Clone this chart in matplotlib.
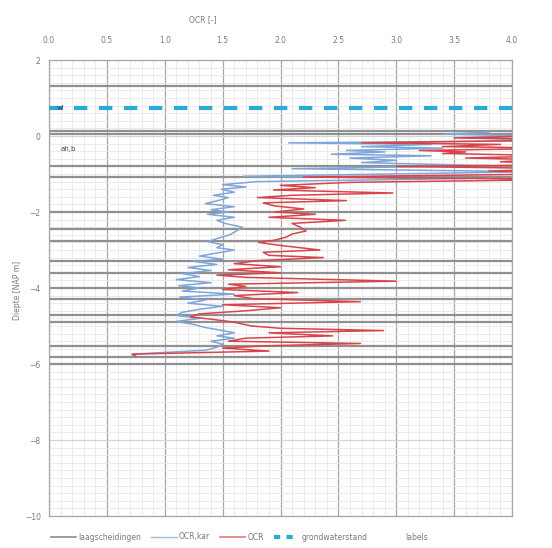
import matplotlib.pyplot as plt
from matplotlib.lines import Line2D

# diepte (m NAP) en OCR waarden
diepte_ocr = [0.10, 0.05, 0.00, -0.05, -0.10, -0.18, -0.22, -0.28, -0.32, -0.38,
              -0.42, -0.46, -0.52, -0.58, -0.62, -0.68, -0.75, -0.80, -0.86, -0.92,
              -0.98, -1.08, -1.14, -1.22, -1.30, -1.36, -1.42, -1.50, -1.56, -1.62,
              -1.70, -1.76, -1.84, -1.92, -2.00, -2.06, -2.14, -2.22, -2.30, -2.40,
              -2.50, -2.58, -2.66, -2.74, -2.80, -2.88, -3.00, -3.06, -3.14, -3.20,
              -3.28, -3.36, -3.44, -3.52, -3.60, -3.66, -3.72, -3.82, -3.90, -3.96,
              -4.04, -4.12, -4.20, -4.28, -4.36, -4.44, -4.52, -4.60, -4.68, -4.76,
              -4.82, -4.90, -5.00, -5.06, -5.12, -5.18, -5.26, -5.32, -5.40, -5.46,
              -5.52, -5.58, -5.66, -5.74, -5.80]
ocr = [4.5, 4.8, 4.2, 3.5, 4.6, 2.7, 3.9, 3.4, 4.5, 3.2,
       3.6, 3.4, 4.4, 3.6, 4.2, 3.9, 4.8, 3.0, 4.5, 3.8,
       4.9, 2.2, 4.6, 2.6, 2.0, 2.3, 1.94, 2.97, 2.1, 1.8,
       2.57, 1.85, 1.95, 2.2, 1.95, 2.3, 1.9, 2.56, 2.1, 2.17,
       2.22, 2.10, 2.05, 1.95, 1.81, 2.0, 2.34, 1.85, 1.9, 2.37,
       1.8, 1.6, 2.0, 1.55, 2.0, 1.45, 1.7, 3.0, 1.55, 1.7,
       1.5, 2.15, 1.6, 1.76, 2.69, 1.5, 2.0, 1.7, 1.3, 1.22,
       1.4, 1.6, 1.75, 2.0, 2.89, 1.9, 2.45, 1.7, 1.55, 2.69,
       1.9, 1.5, 1.9, 0.72, 0.75]

diepte_kar = [0.10, 0.05, 0.00, -0.05, -0.12, -0.18, -0.22, -0.28, -0.32, -0.38,
              -0.42, -0.48, -0.52, -0.58, -0.64, -0.70, -0.78, -0.86, -0.94, -1.06,
              -1.12, -1.20, -1.28, -1.34, -1.40, -1.48, -1.56, -1.62, -1.70, -1.78,
              -1.86, -1.94, -2.00, -2.06, -2.14, -2.22, -2.30, -2.40, -2.50, -2.60,
              -2.70, -2.78, -2.86, -2.94, -3.00, -3.08, -3.16, -3.24, -3.30, -3.38,
              -3.46, -3.54, -3.62, -3.70, -3.78, -3.86, -3.94, -4.00, -4.08, -4.16,
              -4.24, -4.32, -4.40, -4.48, -4.56, -4.64, -4.72, -4.80, -4.88, -4.96,
              -5.04, -5.12, -5.18, -5.26, -5.32, -5.40, -5.48, -5.56, -5.64, -5.74,
              -5.80]
ocr_kar = [3.8, 3.4, 4.2, 3.6, 4.4, 2.07, 3.3, 2.7, 3.4, 2.57,
           2.9, 2.44, 3.3, 2.6, 3.0, 2.7, 3.8, 2.1, 4.2, 1.68,
           3.6, 1.8, 1.5, 1.7, 1.49, 1.6, 1.42, 1.55, 1.46, 1.35,
           1.6, 1.40, 1.55, 1.37, 1.6, 1.45, 1.52, 1.67, 1.62, 1.56,
           1.45, 1.37, 1.5, 1.45, 1.6, 1.45, 1.3, 1.5, 1.25, 1.45,
           1.2, 1.4, 1.15, 1.3, 1.1, 1.4, 1.12, 1.3, 1.15, 1.6,
           1.13, 1.35, 1.2, 1.5, 1.3, 1.15, 1.1, 1.3, 1.1, 1.25,
           1.35, 1.5, 1.6, 1.45, 1.6, 1.4, 1.5, 1.45, 1.35, 0.72,
           0.72]

# laagscheidingen en grondwaterstand
laagscheidingen = [1.32, 0.13, 0.05, -0.79, -1.07, -2.0, -2.45, -2.76, -3.28, -3.6,
                   -4.0, -4.29, -4.71, -4.89, -5.53, -5.82, -6.0]
grondwater = 0.73

x_ticks = [0.0, 0.5, 1.0, 1.5, 2.0, 2.5, 3.0, 3.5, 4.0]
y_ticks = [2, 0, -2, -4, -6, -8, -10]

fig = plt.figure(figsize=(5.52, 5.48), dpi=100)
ax = fig.add_axes([49/552, 32/548, 463/552, 456/548])

ax.set_xlim(0, 4)
ax.set_ylim(-10, 2)
ax.set_xticks(x_ticks)
ax.set_xticks([i * 0.1 for i in range(41)], minor=True)
ax.set_yticks(y_ticks)
ax.set_yticks([-10 + i * 0.2 for i in range(61)], minor=True)
ax.xaxis.tick_top()
ax.set_xticklabels(['%.1f' % v for v in x_ticks])
ax.tick_params(which='both', length=0, labelsize=5.5, labelcolor='#7a7a7a', pad=11)
ax.tick_params(axis='y', pad=6)

# rasterlijnen: verticaal hoofdraster donkerder, horizontaal licht
ax.grid(which='minor', color='#e8e8e8', lw=0.6)
ax.grid(which='major', axis='x', color='#a6a6a6', lw=0.9)
ax.grid(which='major', axis='y', color='#d4d4d4', lw=0.8)
ax.set_axisbelow(True)
for s in ax.spines.values():
    s.set_color('#a6a6a6')
    s.set_linewidth(0.9)

for d in laagscheidingen:
    ax.axhline(d, color='#909090', lw=1.6, zorder=2)

ax.plot(ocr_kar, diepte_kar, color='#7fa6d9', lw=1.1, zorder=3)
ax.plot(ocr, diepte_ocr, color='#d7444a', lw=1.1, zorder=4)
ax.axhline(grondwater, color='#2aaad8', lw=3, dashes=(3.2, 2.8), zorder=5)

ax.text(0.07, grondwater, 'wl', fontsize=5, color='#404060', va='center', zorder=6)
ax.text(0.1, -0.35, 'ah,b', fontsize=5, color='#404040', va='center')

fig.text(203/552, 1 - 20/548, 'OCR [-]', fontsize=5.5, color='#7a7a7a', ha='center', va='center')
fig.text(17/552, 1 - 290/548, 'Diepte [NAP m]', fontsize=5.5, color='#7a7a7a',
         rotation=90, ha='center', va='center')

handles = [Line2D([], [], color='#8c8c8c', lw=1.2),
           Line2D([], [], color='#9fbde4', lw=1.0),
           Line2D([], [], color='#e07a80', lw=1.2),
           Line2D([], [], color='#2aaad8', lw=3, dashes=(1.5, 1.5)),
           Line2D([], [], color='none')]
labels = ['laagscheidingen', 'OCR,kar', 'OCR', 'grondwaterstand', 'labels']
leg = fig.legend(handles, labels, loc='center left', bbox_to_anchor=(0.08, 1 - 537/548),
                 ncol=5, frameon=False, fontsize=5.5, handlelength=3.3,
                 columnspacing=1.3, handletextpad=0.3)
for t in leg.get_texts():
    t.set_color('#7a7a7a')

plt.savefig('out.png', dpi=100)
